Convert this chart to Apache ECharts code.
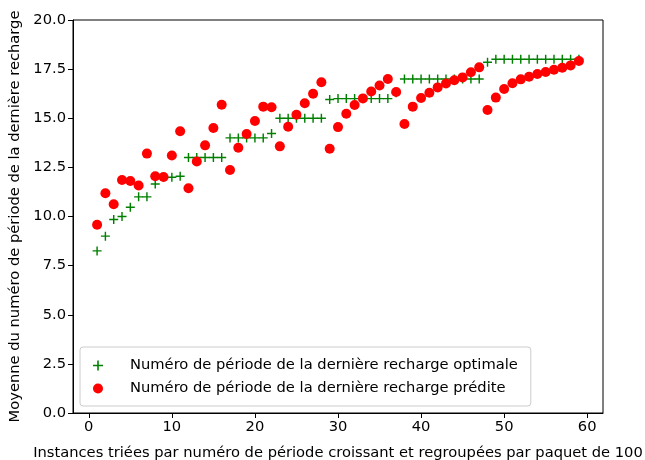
<!DOCTYPE html>
<html>
<head>
<meta charset="utf-8">
<script src="https://cdn.jsdelivr.net/npm/echarts@6/dist/echarts.min.js"></script>
<style>html,body{margin:0;padding:0;background:#fff;}#c{width:645px;height:460px;}</style>
</head>
<body>
<div id="c"></div>
<script>
const instances = [1,2,3,4,5,6,7,8,9,10,11,12,13,14,15,16,17,18,19,20,21,22,23,24,25,26,27,28,29,30,31,32,33,34,35,36,37,38,39,40,41,42,43,44,45,46,47,48,49,50,51,52,53,54,55,56,57,58,59];
const optimale = [8.25,9.0,9.85,10.0,10.47,11.0,11.0,11.65,12.0,12.0,12.05,13.0,13.0,13.0,13.0,13.0,14.0,14.0,14.0,14.0,14.0,14.22,15.0,15.0,15.0,15.0,15.0,15.0,15.95,16.0,16.0,16.0,16.0,16.0,16.0,16.0,16.3,17.0,17.0,17.0,17.0,17.0,17.0,17.0,17.0,17.0,17.0,17.85,18.0,18.0,18.0,18.0,18.0,18.0,18.0,18.0,18.0,18.0,18.0];
const predite = [9.58,11.18,10.62,11.86,11.81,11.58,13.2,12.05,12.01,13.1,14.34,11.44,12.8,13.62,14.5,15.69,12.37,13.5,14.2,14.86,15.59,15.56,13.57,14.57,15.18,15.76,16.25,16.83,13.45,14.55,15.23,15.67,16.01,16.36,16.67,17.0,16.34,14.71,15.59,16.03,16.3,16.57,16.77,16.93,17.08,17.34,17.59,15.42,16.05,16.49,16.78,16.98,17.11,17.25,17.35,17.47,17.57,17.69,17.91];
const xTicks = [0,10,20,30,40,50,60];
const nameOpt = 'Numéro de période de la dernière recharge optimale';
const namePred = 'Numéro de période de la dernière recharge prédite';
const xTitle = 'Instances triées par numéro de période croissant et regroupées par paquet de 100';
const yTitle = 'Moyenne du numéro de période de la dernière recharge';

const font = 'DejaVu Sans';
const fs = 14.7;
const plus = 'path://M4.2,0 H5.8 V4.2 H10 V5.8 H5.8 V10 H4.2 V5.8 H0 V4.2 H4.2 Z';

const chart = echarts.init(document.getElementById('c'), null, {renderer: 'canvas'});
chart.setOption({
  animation: false,
  backgroundColor: '#fff',
  textStyle: {fontFamily: font},
  grid: {left: 73, right: 42, top: 20, bottom: 47, show: true, borderColor: '#000', borderWidth: 1,
         backgroundColor: 'transparent', containLabel: false, outerBoundsMode: 'none'},
  legend: {
    orient: 'vertical', left: 80, top: 347,
    padding: [10, 13, 9, 13], itemGap: 6, itemWidth: 20, itemHeight: 10,
    backgroundColor: 'rgba(255,255,255,0.8)', borderColor: '#cccccc', borderWidth: 1, borderRadius: 3,
    textStyle: {fontFamily: font, fontSize: fs, color: '#000', lineHeight: 17, padding: [0, 0, 0, 17]},
    data: [
      {name: nameOpt, icon: plus, itemStyle: {color: '#008000'}},
      {name: namePred, icon: 'circle', itemStyle: {color: '#ff0000'}}
    ]
  },
  xAxis: {
    type: 'value', min: -1.9, max: 61.9,
    name: xTitle, nameLocation: 'middle', nameGap: 33,
    nameTextStyle: {fontFamily: font, fontSize: fs, color: '#000'},
    axisLine: {show: true, onZero: false, lineStyle: {color: '#000', width: 1}},
    axisTick: {show: true, length: 5, customValues: xTicks, lineStyle: {color: '#000'}},
    axisLabel: {customValues: xTicks, fontFamily: font, fontSize: fs, color: '#000', margin: 7},
    splitLine: {show: false}
  },
  yAxis: {
    type: 'value', min: 0, max: 20, interval: 2.5,
    name: yTitle, nameLocation: 'middle', nameGap: 49,
    nameTextStyle: {fontFamily: font, fontSize: fs, color: '#000'},
    axisLine: {show: true, onZero: false, lineStyle: {color: '#000', width: 1}},
    axisTick: {show: true, length: 5, lineStyle: {color: '#000'}},
    axisLabel: {fontFamily: font, fontSize: fs, color: '#000', margin: 7, formatter: v => v.toFixed(1)},
    splitLine: {show: false}
  },
  series: [
    {
      name: nameOpt, type: 'scatter', symbol: plus, symbolSize: 9,
      itemStyle: {color: '#008000', opacity: 1},
      data: instances.map((x, i) => [x, optimale[i]]), z: 2
    },
    {
      name: namePred, type: 'scatter', symbol: 'circle', symbolSize: 10,
      itemStyle: {color: '#ff0000', opacity: 1},
      data: instances.map((x, i) => [x, predite[i]]), z: 3
    }
  ]
});
</script>
</body>
</html>
